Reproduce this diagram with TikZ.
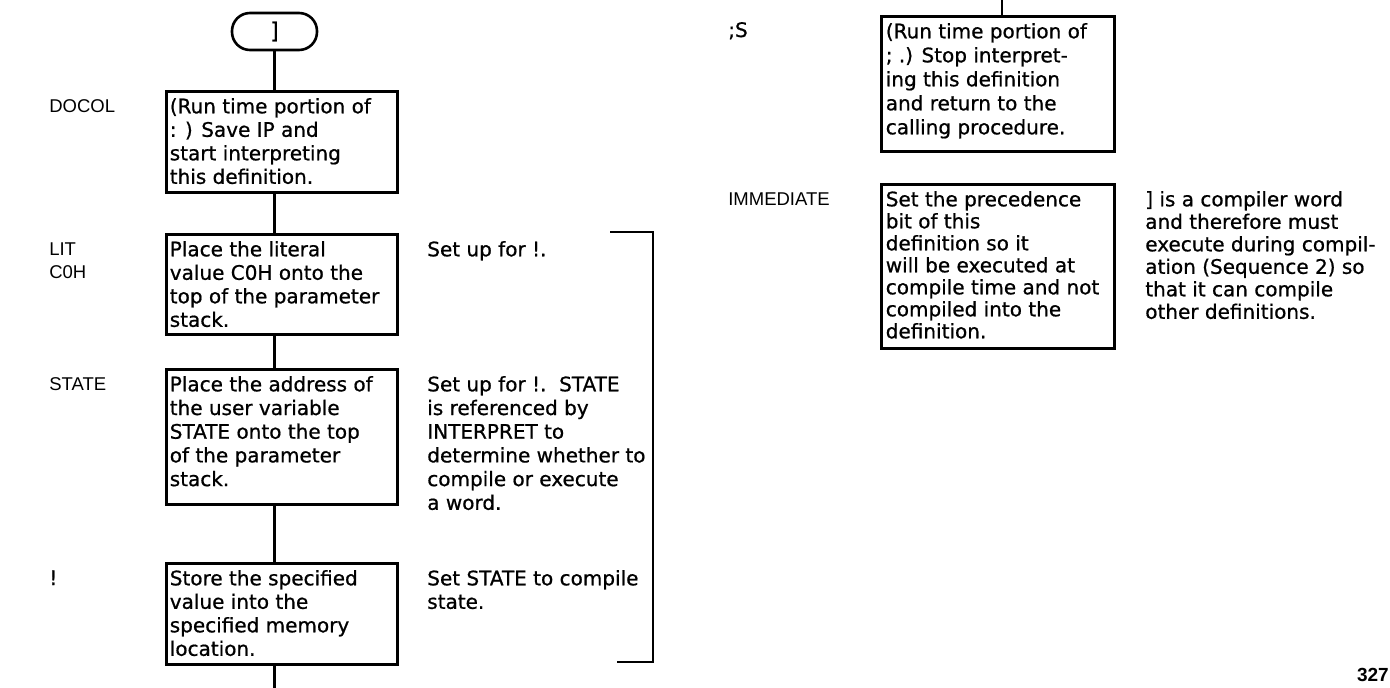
\documentclass[tikz,border=0pt]{standalone}
\usepackage{fontspec}
\setmainfont{DejaVu Sans}[FakeBold=0.8]
\newfontfamily\lblfont{Liberation Sans}
\newcommand{\bt}[3]{\parbox[c][#1][t]{224pt}{\fontsize{20}{#2}\selectfont\raggedright\rule{0pt}{22pt}#3}}
\newcommand{\ct}[2]{\parbox[t]{240pt}{\fontsize{20}{#1}\selectfont\raggedright\rule{0pt}{22pt}#2}}
\begin{document}
\begin{tikzpicture}[x=1pt,y=-1pt,line width=2.6pt,line join=miter,
  box/.style={draw,rectangle,anchor=north west,inner xsep=3pt,inner ysep=0pt,minimum width=231pt},
  term/.style={draw,rectangle,rounded corners=18pt,minimum width=85pt,minimum height=37pt,inner sep=0pt,font=\fontsize{22}{24}\selectfont},
  lbl/.style={anchor=base west,inner sep=0pt,font=\lblfont\fontsize{18.5}{23}\selectfont},
  lblb/.style={anchor=base west,inner sep=0pt,font=\fontsize{20}{23}\selectfont},
  cmt/.style={anchor=north west,inner sep=0pt}]
\useasboundingbox (0,0) rectangle (1390,688);

% left column
\node[term] (term) at (274.5,31.5) {]};
\node[box] (docol) at (165,90) {\bt{101pt}{23.5}{(Run time portion of\\: ) Save IP and\\start interpreting\\this definition.}};
\node[box] (lit) at (165,233) {\bt{100pt}{23.5}{Place the literal\\value C0H onto the\\top of the parameter\\stack.}};
\node[box] (state) at (165,368) {\bt{135pt}{23.7}{Place the address of\\the user variable\\STATE onto the top\\of the parameter\\stack.}};
\node[box] (store) at (165,562) {\bt{101pt}{23.5}{Store the specified\\value into the\\specified memory\\location.}};
\coordinate (leftend) at (274.5,688);

\draw (term.south) -- (term.south |- docol.north);
\draw (term.south |- docol.south) -- (term.south |- lit.north);
\draw (term.south |- lit.south) -- (term.south |- state.north);
\draw (term.south |- state.south) -- (term.south |- store.north);
\draw (term.south |- store.south) -- (leftend);

% labels
\node[lbl] (l1) at (48,112) {DOCOL};
\node[lbl] (l2) at (48,255) {\parbox[t]{100pt}{LIT\\C0H}};
\node[lbl] (l3) at (48,390) {STATE};
\node[lblb] (l4) at (48,585) {!};
\node[lblb] (l5) at (727,37) {;S};
\node[lbl] (l6) at (727,205) {IMMEDIATE};

% comments
\node[cmt] (c1) at (426,233) {\ct{23.5}{Set up for !.}};
\node[cmt] (c2) at (426,368) {\ct{23.7}{Set up for !.\ \ STATE\\is referenced by\\INTERPRET to\\determine whether to\\compile or execute\\a word.}};
\node[cmt] (c3) at (426,562) {\ct{23.5}{Set STATE to compile\\state.}};

% bracket
\coordinate (brA) at (610,232);
\coordinate (brB) at (653,232);
\coordinate (brC) at (653,662);
\coordinate (brD) at (617,662);
\draw (brA) -- (brB) -- (brC) -- (brD);

% right column
\coordinate (topend) at (1002,0);
\node[box,minimum width=233pt] (semis) at (880,15) {\bt{135pt}{24}{(Run time portion of\\; .) Stop interpret-\\ing this definition\\and return to the\\calling procedure.}};
\node[box,minimum width=233pt] (immed) at (880,183) {\bt{164pt}{22}{Set the precedence\\bit of this\\definition so it\\will be executed at\\compile time and not\\compiled into the\\definition.}};
\draw (topend) -- (topend |- semis.north);
\node[cmt] (c4) at (1144,183) {\ct{22.5}{] is a compiler word\\and therefore must\\execute during compil-\\ation (Sequence 2) so\\that it can compile\\other definitions.}};

% page number
\node[anchor=base east,inner sep=0pt,font=\lblfont\bfseries\fontsize{19}{20}\selectfont] (pg) at (1390,681) {327};
\end{tikzpicture}
\end{document}
